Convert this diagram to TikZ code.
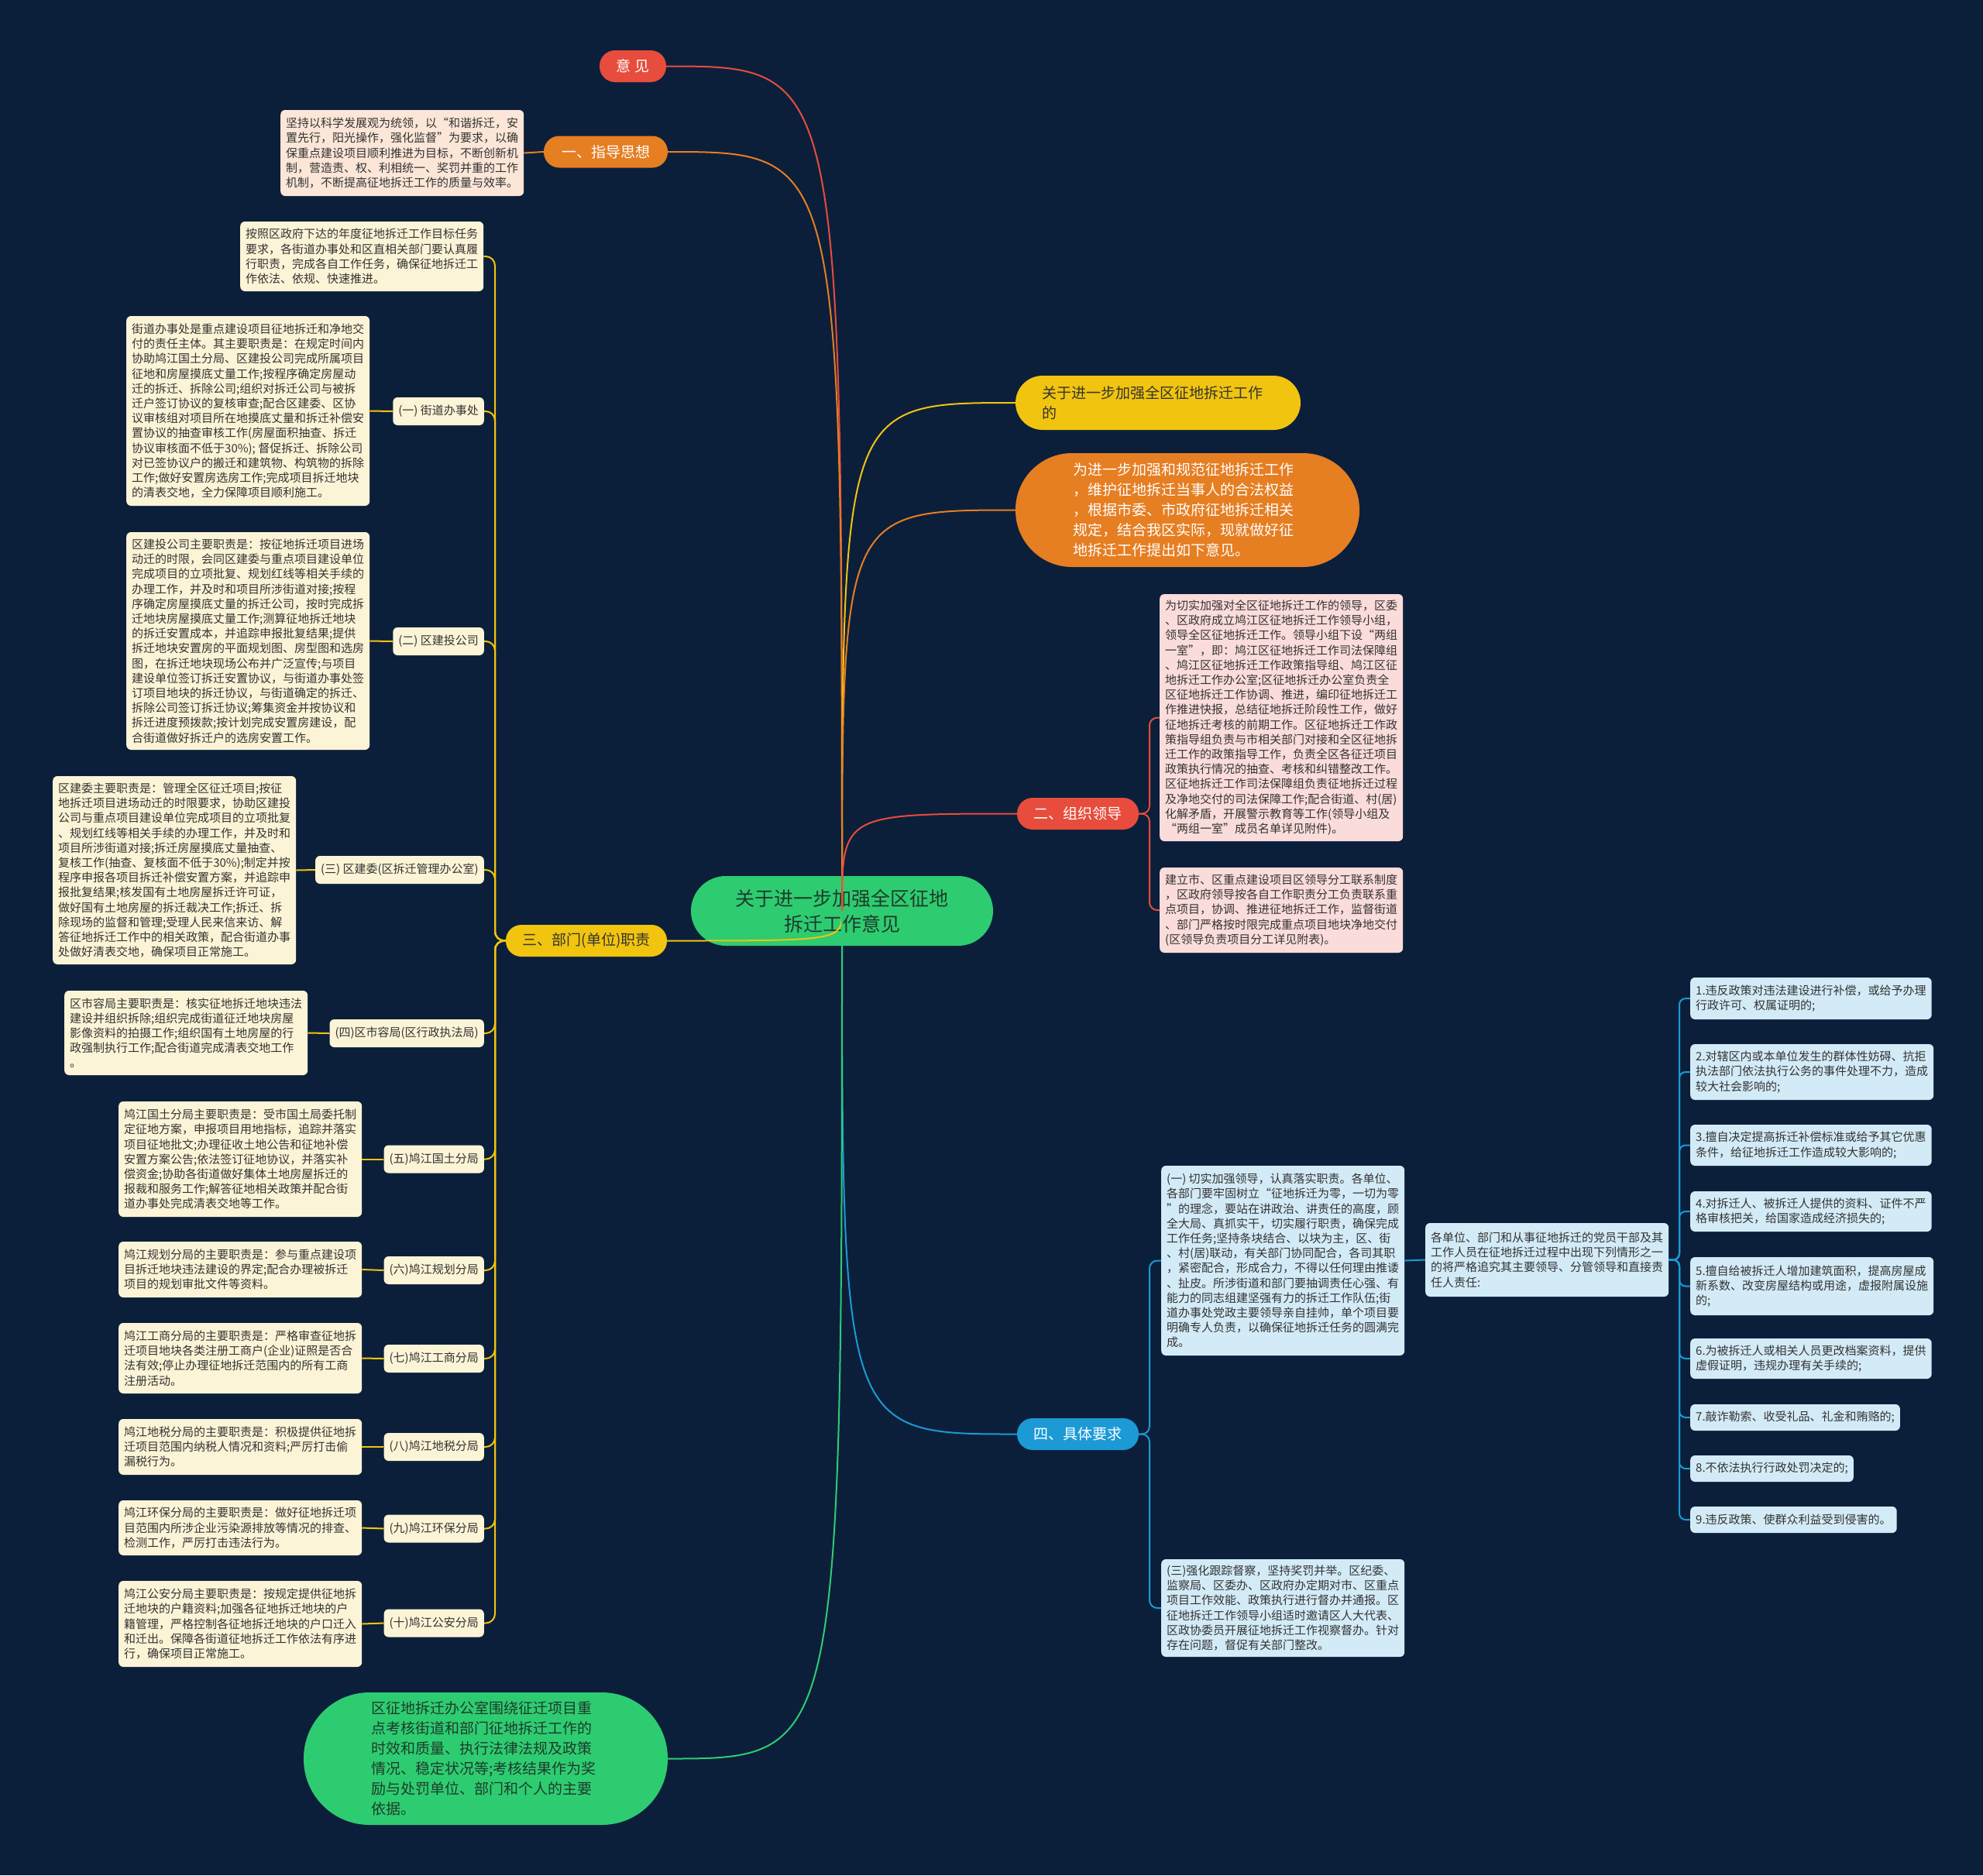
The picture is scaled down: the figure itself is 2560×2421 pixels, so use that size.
\documentclass[tikz,border=0pt]{standalone}
\usepackage{fontspec}
\setmainfont{Noto Sans CJK SC}
\definecolor{bg}{HTML}{0C1F3A}
\definecolor{cred}{HTML}{E74C3C}
\definecolor{corange}{HTML}{E67E22}
\definecolor{cyellow}{HTML}{F1C40F}
\definecolor{cblue}{HTML}{1B9AD6}
\definecolor{cgreen}{HTML}{2ECC71}
\definecolor{cream}{HTML}{FCF4D6}
\definecolor{peach}{HTML}{FBE6D7}
\definecolor{pinkbox}{HTML}{FADCDA}
\definecolor{bluebox}{HTML}{D3EBF7}
\definecolor{txtdark}{HTML}{333333}
\definecolor{gtext}{HTML}{1E3B2A}
\begin{document}
\begin{tikzpicture}[x=1pt,y=-1pt,
  ln/.style={line width=2pt},
  tb/.style={rounded corners=6pt, align=left, inner xsep=7pt, inner ysep=3pt, font=\fontsize{15}{19.2}\selectfont, text=txtdark, anchor=west},
  lbl/.style={tb, fill=cream, anchor=east, minimum height=36pt},
  pill/.style={rounded corners=20pt, minimum height=41pt, inner xsep=0pt, font=\fontsize{19}{24}\selectfont},
]
\fill[bg] (0,0) rectangle (2560,2421);
\useasboundingbox (0,0) rectangle (2560,2421);

% ---------- central and main branches ----------
\node[fill=cgreen, rounded corners=45pt, minimum width=390pt, minimum height=90pt, align=center, text=gtext, font=\fontsize{25}{33}\selectfont] (ctr) at (1087,1176) {关于进一步加强全区征地\\拆迁工作意见};

\node[pill, fill=cred, text=white, minimum width=86pt] (yj) at (817,85.5) {意 见};
\node[pill, fill=corange, text=white, minimum width=160pt] (zd) at (782,196) {一、指导思想};
\node[fill=cyellow, rounded corners=35pt, minimum width=368pt, minimum height=70pt, text width=300pt, align=left, inner xsep=34pt, text=txtdark, font=\fontsize{19}{26}\selectfont] (gy) at (1495,520) {关于进一步加强全区征地拆迁工作\\的};
\node[fill=corange, rounded corners=73pt, minimum width=444pt, minimum height=147pt, text width=296pt, align=left, inner xsep=74pt, text=white, font=\fontsize{19}{26}\selectfont] (wj) at (1533,658.5) {为进一步加强和规范征地拆迁工作\\，维护征地拆迁当事人的合法权益\\，根据市委、市政府征地拆迁相关\\规定，结合我区实际，现就做好征\\地拆迁工作提出如下意见。};
\node[pill, fill=cred, text=white, minimum width=157pt] (s2) at (1391.5,1050.5) {二、组织领导};
\node[pill, fill=cyellow, text=txtdark, minimum width=208pt] (s3) at (757,1214.5) {三、部门(单位)职责};
\node[pill, fill=cblue, text=white, minimum width=157pt] (s4) at (1391.5,1851.5) {四、具体要求};
\node[fill=cgreen, rounded corners=85pt, minimum width=470pt, minimum height=171pt, text width=296pt, align=left, inner xsep=87pt, text=gtext, font=\fontsize{19}{26}\selectfont] (bt) at (627,2270.5) {区征地拆迁办公室围绕征迁项目重\\点考核街道和部门征地拆迁工作的\\时效和质量、执行法律法规及政策\\情况、稳定状况等;考核结果作为奖\\励与处罚单位、部门和个人的主要\\依据。};

% ---------- 指导思想 ----------
\node[tb, fill=peach, minimum height=111pt] (zdt) at (362,197.5) {坚持以科学发展观为统领，以“和谐拆迁，安\\置先行，阳光操作，强化监督”为要求，以确\\保重点建设项目顺利推进为目标，不断创新机\\制，营造责、权、利相统一、奖罚并重的工作\\机制，不断提高征地拆迁工作的质量与效率。};
\draw[ln, corange] (zdt.east) -- (zd.west);

% ---------- 三 部门职责 ----------
\node[tb, fill=cream, minimum height=90pt] (L0) at (310,331) {按照区政府下达的年度征地拆迁工作目标任务\\要求，各街道办事处和区直相关部门要认真履\\行职责，完成各自工作任务，确保征地拆迁工\\作依法、依规、快速推进。};

\node[lbl] (l1) at (625,531) {(一) 街道办事处};
\node[tb, fill=cream, minimum height=245pt] (B1) at (163,530.5) {街道办事处是重点建设项目征地拆迁和净地交\\付的责任主体。其主要职责是：在规定时间内\\协助鸠江国土分局、区建投公司完成所属项目\\征地和房屋摸底丈量工作;按程序确定房屋动\\迁的拆迁、拆除公司;组织对拆迁公司与被拆\\迁户签订协议的复核审查;配合区建委、区协\\议审核组对项目所在地摸底丈量和拆迁补偿安\\置协议的抽查审核工作(房屋面积抽查、拆迁\\协议审核面不低于30\%); 督促拆迁、拆除公司\\对已签协议户的搬迁和建筑物、构筑物的拆除\\工作;做好安置房选房工作;完成项目拆迁地块\\的清表交地，全力保障项目顺利施工。};

\node[lbl] (l2) at (625,828) {(二) 区建投公司};
\node[tb, fill=cream, minimum height=281pt] (B2) at (163,827.5) {区建投公司主要职责是：按征地拆迁项目进场\\动迁的时限，会同区建委与重点项目建设单位\\完成项目的立项批复、规划红线等相关手续的\\办理工作，并及时和项目所涉街道对接;按程\\序确定房屋摸底丈量的拆迁公司，按时完成拆\\迁地块房屋摸底丈量工作;测算征地拆迁地块\\的拆迁安置成本，并追踪申报批复结果;提供\\拆迁地块安置房的平面规划图、房型图和选房\\图，在拆迁地块现场公布并广泛宣传;与项目\\建设单位签订拆迁安置协议，与街道办事处签\\订项目地块的拆迁协议，与街道确定的拆迁、\\拆除公司签订拆迁协议;筹集资金并按协议和\\拆迁进度预拨款;按计划完成安置房建设，配\\合街道做好拆迁户的选房安置工作。};

\node[lbl] (l3) at (625,1123) {(三) 区建委(区拆迁管理办公室)};
\node[tb, fill=cream, minimum height=243pt] (B3) at (68,1123.5) {区建委主要职责是：管理全区征迁项目;按征\\地拆迁项目进场动迁的时限要求，协助区建投\\公司与重点项目建设单位完成项目的立项批复\\、规划红线等相关手续的办理工作，并及时和\\项目所涉街道对接;拆迁房屋摸底丈量抽查、\\复核工作(抽查、复核面不低于30\%);制定并按\\程序申报各项目拆迁补偿安置方案，并追踪申\\报批复结果;核发国有土地房屋拆迁许可证，\\做好国有土地房屋的拆迁裁决工作;拆迁、拆\\除现场的监督和管理;受理人民来信来访、解\\答征地拆迁工作中的相关政策，配合街道办事\\处做好清表交地，确保项目正常施工。};

\node[lbl] (l4) at (625,1334) {(四)区市容局(区行政执法局)};
\node[tb, fill=cream, minimum height=109pt] (B4) at (83,1333.5) {区市容局主要职责是：核实征地拆迁地块违法\\建设并组织拆除;组织完成街道征迁地块房屋\\影像资料的拍摄工作;组织国有土地房屋的行\\政强制执行工作;配合街道完成清表交地工作\\。};

\node[lbl] (l5) at (625,1496.5) {(五)鸠江国土分局};
\node[tb, fill=cream, minimum height=149pt] (B5) at (153,1496.5) {鸠江国土分局主要职责是：受市国土局委托制\\定征地方案，申报项目用地指标，追踪并落实\\项目征地批文;办理征收土地公告和征地补偿\\安置方案公告;依法签订征地协议，并落实补\\偿资金;协助各街道做好集体土地房屋拆迁的\\报裁和服务工作;解答征地相关政策并配合街\\道办事处完成清表交地等工作。};

\node[lbl] (l6) at (625,1640) {(六)鸠江规划分局};
\node[tb, fill=cream, minimum height=72pt] (B6) at (153,1639) {鸠江规划分局的主要职责是：参与重点建设项\\目拆迁地块违法建设的界定;配合办理被拆迁\\项目的规划审批文件等资料。};

\node[lbl] (l7) at (625,1754) {(七)鸠江工商分局};
\node[tb, fill=cream, minimum height=91pt] (B7) at (153,1753.5) {鸠江工商分局的主要职责是：严格审查征地拆\\迁项目地块各类注册工商户(企业)证照是否合\\法有效;停止办理征地拆迁范围内的所有工商\\注册活动。};

\node[lbl] (l8) at (625,1868) {(八)鸠江地税分局};
\node[tb, fill=cream, minimum height=72pt] (B8) at (153,1868) {鸠江地税分局的主要职责是：积极提供征地拆\\迁项目范围内纳税人情况和资料;严厉打击偷\\漏税行为。};

\node[lbl] (l9) at (625,1973.5) {(九)鸠江环保分局};
\node[tb, fill=cream, minimum height=71pt] (B9) at (153,1972.5) {鸠江环保分局的主要职责是：做好征地拆迁项\\目范围内所涉企业污染源排放等情况的排查、\\检测工作，严厉打击违法行为。};

\node[lbl] (l10) at (625,2095.5) {(十)鸠江公安分局};
\node[tb, fill=cream, minimum height=111pt] (B10) at (153,2096.5) {鸠江公安分局主要职责是：按规定提供征地拆\\迁地块的户籍资料;加强各征地拆迁地块的户\\籍管理，严格控制各征地拆迁地块的户口迁入\\和迁出。保障各街道征地拆迁工作依法有序进\\行，确保项目正常施工。};

\coordinate (t3) at (639,1214.5);
\foreach \n in {L0,l1,l2,l3,l4,l5,l6,l7,l8,l9,l10}
  \draw[ln, cyellow, rounded corners=12pt] (s3.west) -- (t3) |- (\n.east);
\foreach \b/\l in {B1/l1,B2/l2,B3/l3,B4/l4,B5/l5,B6/l6,B7/l7,B8/l8,B9/l9,B10/l10}
  \draw[ln, cyellow] (\b.east) -- (\l.west);

% ---------- 二 组织领导 ----------
\node[tb, fill=pinkbox, minimum height=319pt] (p1) at (1497,926.5) {为切实加强对全区征地拆迁工作的领导，区委\\、区政府成立鸠江区征地拆迁工作领导小组，\\领导全区征地拆迁工作。领导小组下设“两组\\一室”，即：鸠江区征地拆迁工作司法保障组\\、鸠江区征地拆迁工作政策指导组、鸠江区征\\地拆迁工作办公室;区征地拆迁办公室负责全\\区征地拆迁工作协调、推进，编印征地拆迁工\\作推进快报，总结征地拆迁阶段性工作，做好\\征地拆迁考核的前期工作。区征地拆迁工作政\\策指导组负责与市相关部门对接和全区征地拆\\迁工作的政策指导工作，负责全区各征迁项目\\政策执行情况的抽查、考核和纠错整改工作。\\区征地拆迁工作司法保障组负责征地拆迁过程\\及净地交付的司法保障工作;配合街道、村(居)\\化解矛盾，开展警示教育等工作(领导小组及\\“两组一室”成员名单详见附件)。};
\node[tb, fill=pinkbox, minimum height=110pt] (p2) at (1497,1175) {建立市、区重点建设项目区领导分工联系制度\\，区政府领导按各自工作职责分工负责联系重\\点项目，协调、推进征地拆迁工作，监督街道\\、部门严格按时限完成重点项目地块净地交付\\(区领导负责项目分工详见附表)。};
\coordinate (t2) at (1484,1050.5);
\foreach \n in {p1,p2}
  \draw[ln, cred, rounded corners=10pt] (s2.east) -- (t2) |- (\n.west);

% ---------- 四 具体要求 ----------
\node[tb, fill=bluebox, minimum height=245pt] (b1) at (1499,1627.5) {(一) 切实加强领导，认真落实职责。各单位、\\各部门要牢固树立“征地拆迁为零，一切为零\\”的理念，要站在讲政治、讲责任的高度，顾\\全大局、真抓实干，切实履行职责，确保完成\\工作任务;坚持条块结合、以块为主，区、街\\、村(居)联动，有关部门协同配合，各司其职\\，紧密配合，形成合力，不得以任何理由推诿\\、扯皮。所涉街道和部门要抽调责任心强、有\\能力的同志组建坚强有力的拆迁工作队伍;街\\道办事处党政主要领导亲自挂帅，单个项目要\\明确专人负责，以确保征地拆迁任务的圆满完\\成。};
\node[tb, fill=bluebox, minimum height=126pt] (b3) at (1499,2076) {(三)强化跟踪督察，坚持奖罚并举。区纪委、\\监察局、区委办、区政府办定期对市、区重点\\项目工作效能、政策执行进行督办并通报。区\\征地拆迁工作领导小组适时邀请区人大代表、\\区政协委员开展征地拆迁工作视察督办。针对\\存在问题，督促有关部门整改。};
\coordinate (t4) at (1484,1851.5);
\foreach \n in {b1,b3}
  \draw[ln, cblue, rounded corners=10pt] (s4.east) -- (t4) |- (\n.west);

\node[tb, fill=bluebox, minimum height=95pt] (mid) at (1840,1626.5) {各单位、部门和从事征地拆迁的党员干部及其\\工作人员在征地拆迁过程中出现下列情形之一\\的将严格追究其主要领导、分管领导和直接责\\任人责任:};
\draw[ln, cblue] (b1.east) -- (mid.west);

\node[tb, fill=bluebox, minimum height=54pt] (i1) at (2182,1289) {1.违反政策对违法建设进行补偿，或给予办理\\行政许可、权属证明的;};
\node[tb, fill=bluebox, minimum height=72pt] (i2) at (2182,1384) {2.对辖区内或本单位发生的群体性妨碍、抗拒\\执法部门依法执行公务的事件处理不力，造成\\较大社会影响的;};
\node[tb, fill=bluebox, minimum height=53pt] (i3) at (2182,1478.5) {3.擅自决定提高拆迁补偿标准或给予其它优惠\\条件，给征地拆迁工作造成较大影响的;};
\node[tb, fill=bluebox, minimum height=52pt] (i4) at (2182,1564) {4.对拆迁人、被拆迁人提供的资料、证件不严\\格审核把关，给国家造成经济损失的;};
\node[tb, fill=bluebox, minimum height=75pt] (i5) at (2182,1660.5) {5.擅自给被拆迁人增加建筑面积，提高房屋成\\新系数、改变房屋结构或用途，虚报附属设施\\的;};
\node[tb, fill=bluebox, minimum height=52pt] (i6) at (2182,1754) {6.为被拆迁人或相关人员更改档案资料，提供\\虚假证明，违规办理有关手续的;};
\node[tb, fill=bluebox, minimum height=34pt] (i7) at (2182,1830) {7.敲诈勒索、收受礼品、礼金和贿赂的;};
\node[tb, fill=bluebox, minimum height=34pt] (i8) at (2182,1896) {8.不依法执行行政处罚决定的;};
\node[tb, fill=bluebox, minimum height=34pt] (i9) at (2182,1962) {9.违反政策、使群众利益受到侵害的。};
\coordinate (tm) at (2168,1626.5);
\foreach \n in {i1,i2,i3,i4,i5,i6,i7,i8,i9}
  \draw[ln, cblue, rounded corners=8pt] (mid.east) -- (tm) |- (\n.west);

% ---------- main curves ----------
\coordinate (c0) at (1087,1176);
\foreach \t/\a/\c in {yj/east/cred, zd/east/corange, gy/west/cyellow, wj/west/corange, s2/west/cred, s3/east/cyellow, s4/west/cblue, bt/east/cgreen}
  \draw[ln, \c] (c0) .. controls (c0 |- \t.\a) .. (\t.\a);
\end{tikzpicture}
\end{document}
